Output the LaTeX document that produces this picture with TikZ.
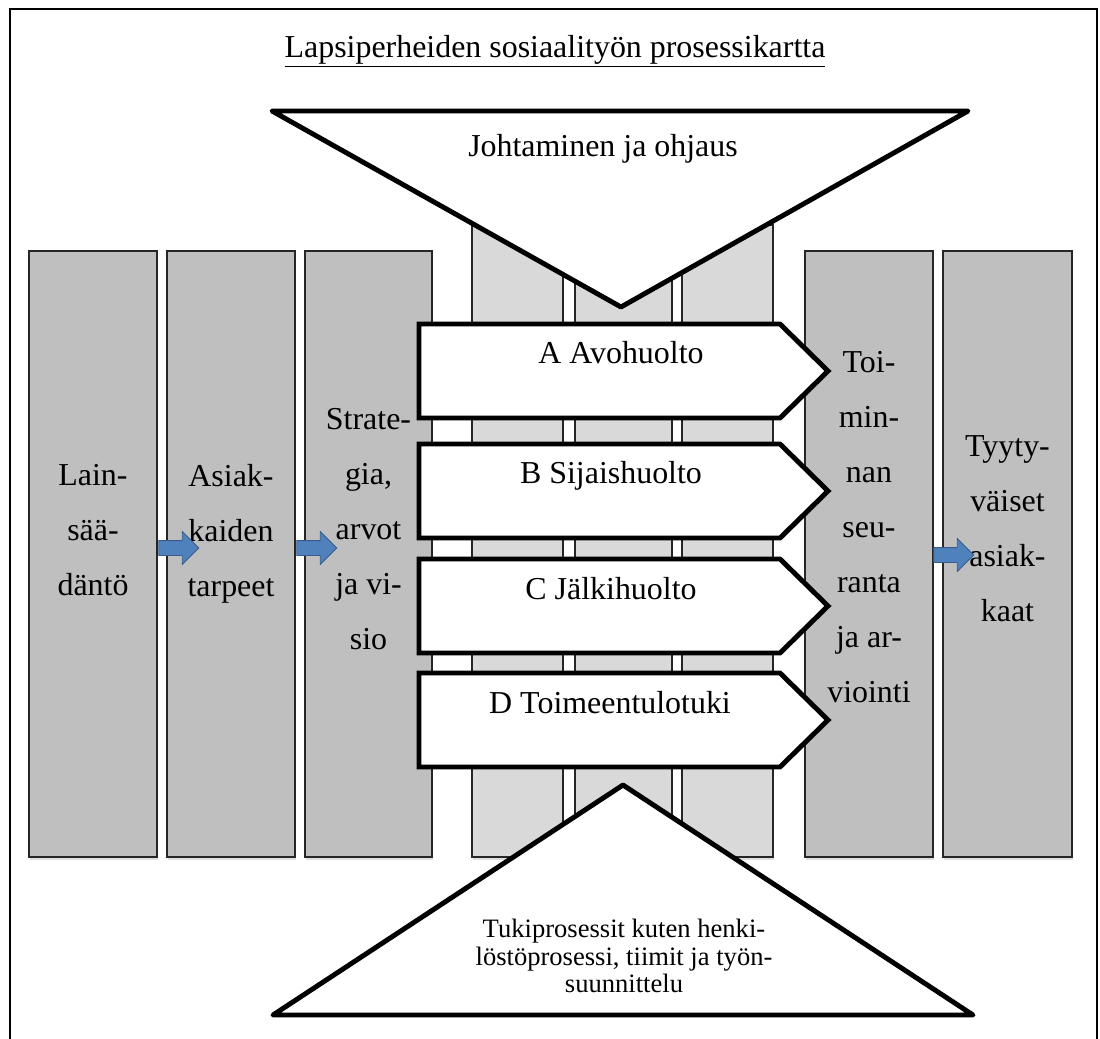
\documentclass[tikz,border=0pt]{standalone}
\usepackage{fontspec}
\setmainfont{Liberation Serif}
\usetikzlibrary{shapes.arrows,shadows}

\definecolor{colgrey}{RGB}{191,191,191}
\definecolor{lightgrey}{RGB}{217,217,217}
\definecolor{arrowblue}{RGB}{79,129,189}
\definecolor{arrowedge}{RGB}{56,93,138}

\begin{document}
\begin{tikzpicture}[x=0.025cm, y=-0.025cm]

  \tikzstyle{column} = [draw=black!85, line width=0.8pt, fill=colgrey, drop shadow={opacity=0.25, shadow xshift=0.03cm, shadow yshift=-0.07cm}]
  \tikzstyle{lightcolumn} = [column, fill=lightgrey]
  \tikzstyle{bigtext} = [font=\fontsize{22.7}{39.1}\selectfont]
  \tikzstyle{coltext} = [bigtext, anchor=north, inner sep=0, align=center]
  \tikzstyle{chevron} = [draw, fill=white, line width=3.5pt]
  \tikzstyle{funnel} = [draw, fill=white, line width=3.5pt, line join=round]
  \tikzstyle{blockarrow} = [single arrow, fill=arrowblue, draw=arrowedge, line width=0.6pt, inner sep=0.175cm, single arrow head extend=0.225cm, minimum height=1cm]

  \useasboundingbox (0,0) rectangle (1100,1039);

  \draw[line width=2pt] (10,1039) -- (10,9) -- (1097,9) -- (1097,1039);

  \node (title) [bigtext, anchor=base] at (555,57) {\underline{Lapsiperheiden sosiaalityön prosessikartta}};

  \draw[lightcolumn] (472,225) rectangle (563,857);
  \draw[lightcolumn] (575,225) rectangle (672,857);
  \draw[lightcolumn] (682,225) rectangle (773,857);

  \draw[column] (29,251) rectangle (157,857);
  \draw[column] (167,251) rectangle (295,857);
  \draw[column] (305,251) rectangle (432,857);
  \draw[column] (805,251) rectangle (933,857);
  \draw[column] (943,251) rectangle (1072,857);

  \node (laki) [coltext] at (93,464.5) {Lain-\\sää-\\däntö};
  \node (tarpeet) [coltext] at (231,464.5) {Asiak-\\kaiden\\tarpeet};
  \node (strategia) [coltext] at (368.5,408.5) {Strate-\\gia,\\arvot\\ja vi-\\sio};
  \node (seuranta) [coltext] at (869,351.5) {Toi-\\min-\\nan\\seu-\\ranta\\ja ar-\\viointi};
  \node (asiakkaat) [coltext] at (1007.5,435.5) {Tyyty-\\väiset\\asiak-\\kaat};

  \draw[funnel] (272,111) -- (968,111) -- (621,307) -- cycle;
  \node (johto) [bigtext, anchor=base] at (603,156) {Johtaminen ja ohjaus};

  \draw[chevron] (419,324) -- (780,324) -- (828,371) -- (780,418) -- (419,418) -- cycle;
  \node (avo) [bigtext, anchor=base] at (621,363) {A Avohuolto};

  \draw[chevron] (419,444) -- (780,444) -- (828,491) -- (780,538) -- (419,538) -- cycle;
  \node (sijais) [bigtext, anchor=base] at (611,483) {B Sijaishuolto};

  \draw[chevron] (419,559) -- (780,559) -- (828,606) -- (780,653) -- (419,653) -- cycle;
  \node (jalki) [bigtext, anchor=base] at (611,599) {C Jälkihuolto};

  \draw[chevron] (419,673) -- (780,673) -- (828,720) -- (780,767) -- (419,767) -- cycle;
  \node (toimeentulo) [bigtext, anchor=base] at (610,713) {D Toimeentulotuki};

  \draw[funnel] (623,785) -- (973,1015) -- (273,1015) -- cycle;
  \node (tuki) [anchor=north, inner sep=0, align=center, font=\fontsize{18.9}{19.5}\selectfont] at (624,919) {Tukiprosessit kuten henki-\\löstöprosessi, tiimit ja työn-\\suunnittelu};

  \node (pil1) [blockarrow] at (175,548) {};
  \node (pil2) [blockarrow] at (313,548) {};
  \node (pil3) [blockarrow] at (950,555) {};

\end{tikzpicture}
\end{document}
